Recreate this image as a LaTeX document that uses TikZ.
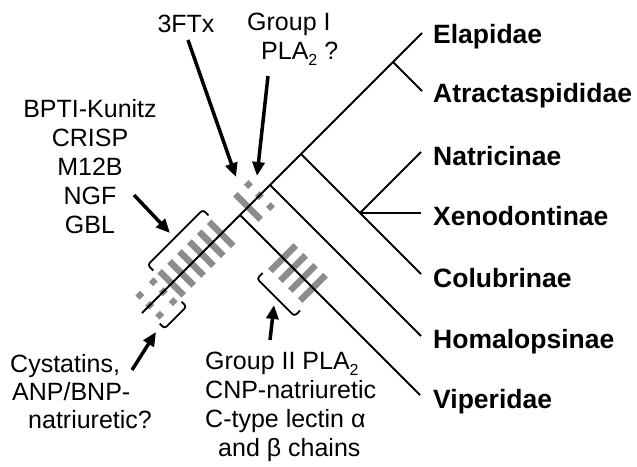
\documentclass[tikz,border=0pt]{standalone}
\usepackage{fontspec}
\setmainfont{Liberation Sans}
\usetikzlibrary{arrows.meta}
\definecolor{hatch}{RGB}{140,140,140}
\newcommand{\subtwo}{\raisebox{-6pt}{\fontsize{16}{16}\selectfont 2}}

\begin{document}
\begin{tikzpicture}[
  x=1pt, y=-1pt,
  branch/.style={line width=2pt},
  bar/.style={draw=hatch, line width=6.5pt},
  dotbar/.style={bar, dash pattern=on 6pt off 8pt},
  brace/.style={line width=1.8pt, rounded corners=3pt},
  pointer/.style={line width=3.5pt, -{Triangle[length=14pt,width=12pt]}},
  lbl/.style={font=\fontsize{25}{29}\selectfont, inner sep=0pt},
  taxon/.style={font=\bfseries\fontsize{26.5}{30}\selectfont, inner sep=0pt, anchor=base west}
]
\fill[white] (0,0) rectangle (637,466);
\useasboundingbox (0,0) rectangle (637,466);

% tree
\coordinate (root) at (142,313);
\coordinate (nV) at (240,215);
\coordinate (nH) at (270,185);
\coordinate (nC) at (301,154);
\coordinate (nE) at (393,62);
\coordinate (nNX) at (360,213);
\coordinate (tipE) at (422,33);
\coordinate (tipA) at (422,91);
\coordinate (tipN) at (421,152);
\coordinate (tipX) at (421,213);
\coordinate (tipC) at (421,274);
\coordinate (tipH) at (421,336);
\coordinate (tipV) at (420,395);

% toxin gains on the stem
\begin{scope}[shift={(root)}, rotate=45]
  \foreach \L in {42,56,70,84,98,112} \draw[bar] (\L,-17) -- (\L,17);
  \foreach \L in {11,30} \draw[dotbar] (\L,-17) -- (\L,17);
  \draw[bar] (150,-18) -- (150,18);
  \draw[dotbar, dash pattern=on 6pt off 9.6pt] (166,-18.6) -- (166,18.6);
  \draw[brace] (38,-22) -- (38,-30) -- (116,-30) -- (116,-22);
  \draw[brace] (5,20) -- (5,27) -- (36,27) -- (36,20);
\end{scope}

% toxin gains on the viperid branch
\begin{scope}[shift={(nV)}, rotate=-45]
  \foreach \L in {61,75,89,103} \draw[bar] (\L,-18) -- (\L,18);
  \draw[brace] (57,25) -- (57,33) -- (110,33) -- (110,25);
\end{scope}

\draw[branch] (root) -- (nV) -- (nH) -- (nC) -- (nE) -- (tipE);
\draw[branch] (nE) -- (tipA);
\draw[branch] (nC) -- (nNX) -- (tipC);
\draw[branch] (nNX) -- (tipN);
\draw[branch] (nNX) -- (tipX);
\draw[branch] (nH) -- (tipH);
\draw[branch] (nV) -- (tipV);

\node[taxon] (elap) at (433,43) {Elapidae};
\node[taxon] (atra) at (433,102) {Atractaspididae};
\node[taxon] (natr) at (433,165) {Natricinae};
\node[taxon] (xeno) at (433,225) {Xenodontinae};
\node[taxon] (colu) at (433,287) {Colubrinae};
\node[taxon] (homa) at (433,348) {Homalopsinae};
\node[taxon] (vipe) at (433,408) {Viperidae};

\node[lbl, anchor=north, align=center] (basal) at (90,99) {BPTI-Kunitz\\CRISP\\M12B\\NGF\\GBL};
\node[lbl, anchor=base] (tfx) at (186,32) {3FTx};
\node[lbl, anchor=north west, align=left] (gpI) at (247,13) {Group I\\\hspace*{14pt}PLA\subtwo\ ?};
\node[lbl, font=\fontsize{25}{28}\selectfont, anchor=north west, align=left] (cyst) at (10,354)
  {Cystatins,\\\hspace*{2pt}ANP/BNP-\\\hspace*{18pt}natriuretic?};
\node[lbl, anchor=north west, align=left] (gpII) at (205,352)
  {Group II PLA\subtwo\\CNP-natriuretic\\C-type lectin α\\\hspace*{13pt}and β chains};

% pointers
\coordinate (tfxA) at (188,40);
\coordinate (tfxB) at (236,177);
\coordinate (gpIA) at (268,76);
\coordinate (gpIB) at (257,176);
\coordinate (basA) at (134,195);
\coordinate (basB) at (170,233);
\coordinate (cysA) at (132,370);
\coordinate (cysB) at (156,332);
\coordinate (gpIIA) at (270,340);
\coordinate (gpIIB) at (274,305);
\draw[pointer] (tfxA) -- (tfxB);
\draw[pointer] (gpIA) -- (gpIB);
\draw[pointer] (basA) -- (basB);
\draw[pointer] (cysA) -- (cysB);
\draw[pointer] (gpIIA) -- (gpIIB);
\end{tikzpicture}
\end{document}
